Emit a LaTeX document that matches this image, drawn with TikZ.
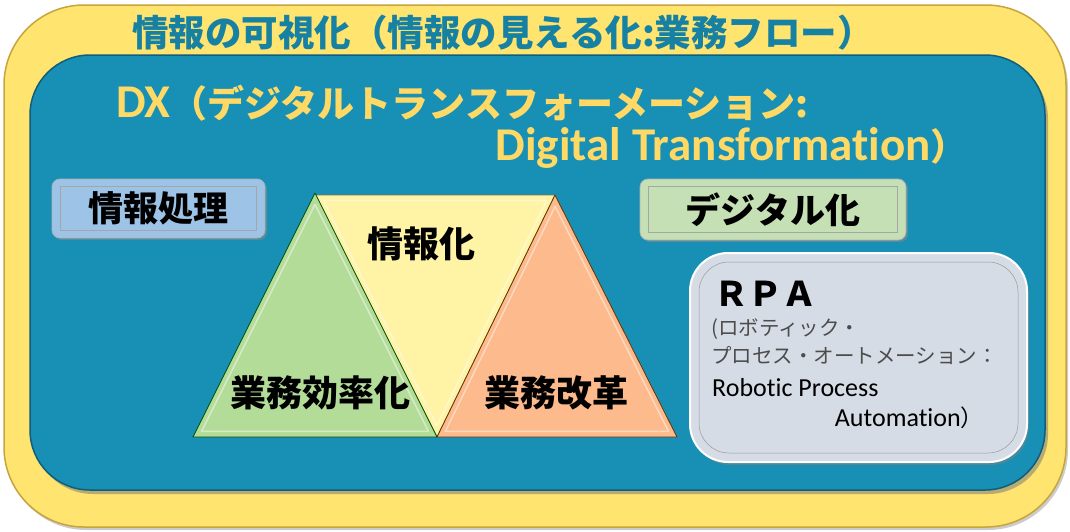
\documentclass[tikz,border=0pt]{standalone}
\usepackage{fontspec}
\setmainfont{Carlito}[Ligatures=CommonOff]
\newfontfamily\jp{Noto Sans CJK JP}
\usetikzlibrary{positioning}
\usetikzlibrary{shadows}
\definecolor{frameyellow}{HTML}{FFE46F}
\definecolor{framegold}{HTML}{C9A43A}
\definecolor{dxblue}{HTML}{188FB5}
\definecolor{dxdark}{HTML}{0F5E7A}
\definecolor{dxyellow}{HTML}{FFD966}
\definecolor{tagblue}{HTML}{9DC3E6}
\definecolor{taggreen}{HTML}{C5E0B4}
\definecolor{trigreen}{HTML}{B3DC98}
\definecolor{triyellow}{HTML}{FFF3A6}
\definecolor{triorange}{HTML}{FDBA8C}
\definecolor{rpagray}{HTML}{D6DCE5}
\tikzset{outerframe/.style = {draw=framegold, line width=1.5pt, fill=frameyellow,
                              rounded corners=80pt,
                              drop shadow={shadow xshift=2pt, shadow yshift=-3pt, fill=black!40}},
         innerframe/.style = {draw=dxdark, line width=1.5pt, fill=dxblue,
                              rounded corners=60pt,
                              drop shadow={shadow xshift=3pt, shadow yshift=-4pt, fill=black!55}},
         tagbox/.style = {draw=white!70!black, line width=0.8pt, rounded corners=8pt,
                          font=\jp\bfseries\fontsize{35}{40}\selectfont,
                          drop shadow={shadow xshift=2pt, shadow yshift=-2pt, fill=black!45}},
         tagline/.style = {draw=black!35, line width=0.4pt},
         tri/.style = {line width=0.8pt, line join=round},
         bevel/.style = {draw=white, opacity=0.45, line width=1.5pt, line join=round},
         trilabel/.style = {font=\jp\bfseries\fontsize{36}{40}\selectfont},
         dxtext/.style = {text=dxyellow, font=\jp\bfseries\fontsize{37}{42}\selectfont, inner sep=0pt},
         rpasmall/.style = {anchor=west, inner sep=0pt, text=black!70,
                            font=\jp\fontsize{20.5}{24}\selectfont},
         rpalatin/.style = {anchor=west, inner sep=0pt, font=\fontsize{26}{30}\selectfont}}
\newcommand{\latin}[1]{{\normalfont\bfseries\fontsize{47}{50}\selectfont #1}}

\begin{document}
\begin{tikzpicture}[x=1pt, y=-1pt]
     \useasboundingbox (0, 0) rectangle (1070, 531);
     % frames
     \draw [outerframe] (4, 5) rectangle (1066, 527);
     \draw [innerframe] (30, 55) rectangle (1045, 490);
     % headings
     \node [inner sep=0pt, text=dxblue!90!black, font=\jp\bfseries\fontsize{36.5}{40}\selectfont] (vis) at (503, 33)
          {情報の可視化（情報の見える化:業務フロー）};
     \node [dxtext, anchor=west] (dxa) at (116, 103) {\latin{DX}（デジタルトランスフォーメーション:};
     \node [dxtext, anchor=east] (dxb) at (968, 148) {\latin{Digital Transformation}）};
     % tags
     \node [tagbox, fill=tagblue, minimum width=213pt, minimum height=59pt] (proc) at (158.5, 208.5)
          {情報処理};
     \draw [tagline] ([shift={(9, 8)}] proc.north west) rectangle ([shift={(-9, -8)}] proc.south east);
     \node [tagbox, fill=taggreen, minimum width=266pt, minimum height=61pt] (digi) at (773, 209.5)
          {デジタル化};
     \draw [tagline] ([shift={(9, 8)}] digi.north west) rectangle ([shift={(-9, -8)}] digi.south east);
     % triangles
     \draw [tri, draw=yellow!40!black, fill=triyellow] (315, 195) -- (555, 195) -- (437, 437) -- cycle;
     \draw [bevel, scale around={0.93:(435.67, 275.67)}] (315, 195) -- (555, 195) -- (437, 437) -- cycle;
     \draw [tri, draw=green!30!black, fill=trigreen] (315, 193) -- (437, 437) -- (193, 437) -- cycle;
     \draw [bevel, scale around={0.93:(315, 355.67)}] (315, 193) -- (437, 437) -- (193, 437) -- cycle;
     \draw [tri, draw=orange!40!black, fill=triorange] (555, 195) -- (677, 437) -- (437, 437) -- cycle;
     \draw [bevel, scale around={0.93:(556.33, 356.33)}] (555, 195) -- (677, 437) -- (437, 437) -- cycle;
     \node [trilabel] (info) at (421, 244) {情報化};
     \node [trilabel] (eff) at (320, 393) {業務効率化};
     \node [trilabel] (ref) at (556, 393) {業務改革};
     % RPA
     \node [draw=white, line width=2pt, fill=rpagray, rounded corners=38pt,
            minimum width=337pt, minimum height=209pt,
            drop shadow={shadow xshift=2pt, shadow yshift=-3pt, fill=black!50}] (rpa) at (858.5, 357.5) {};
     \draw [white!60!black, line width=0.5pt, rounded corners=30pt]
          ([shift={(10, 10)}] rpa.north west) rectangle ([shift={(-10, -10)}] rpa.south east);
     \node [anchor=west, inner sep=0pt, font=\jp\bfseries\fontsize{34}{38}\selectfont] (rpat) at (714, 294)
          {ＲＰＡ};
     \node [rpasmall] (rpaa) at (711, 329) {(ロボティック・};
     \node [rpasmall] (rpab) at (711, 356) {プロセス・オートメーション：};
     \node [rpalatin] (rpac) at (712, 388) {Robotic Process};
     \node [rpalatin, anchor=east] (rpad) at (984, 418) {Automation{\jp\fontsize{23}{28}\selectfont）}};
\end{tikzpicture}
\end{document}
